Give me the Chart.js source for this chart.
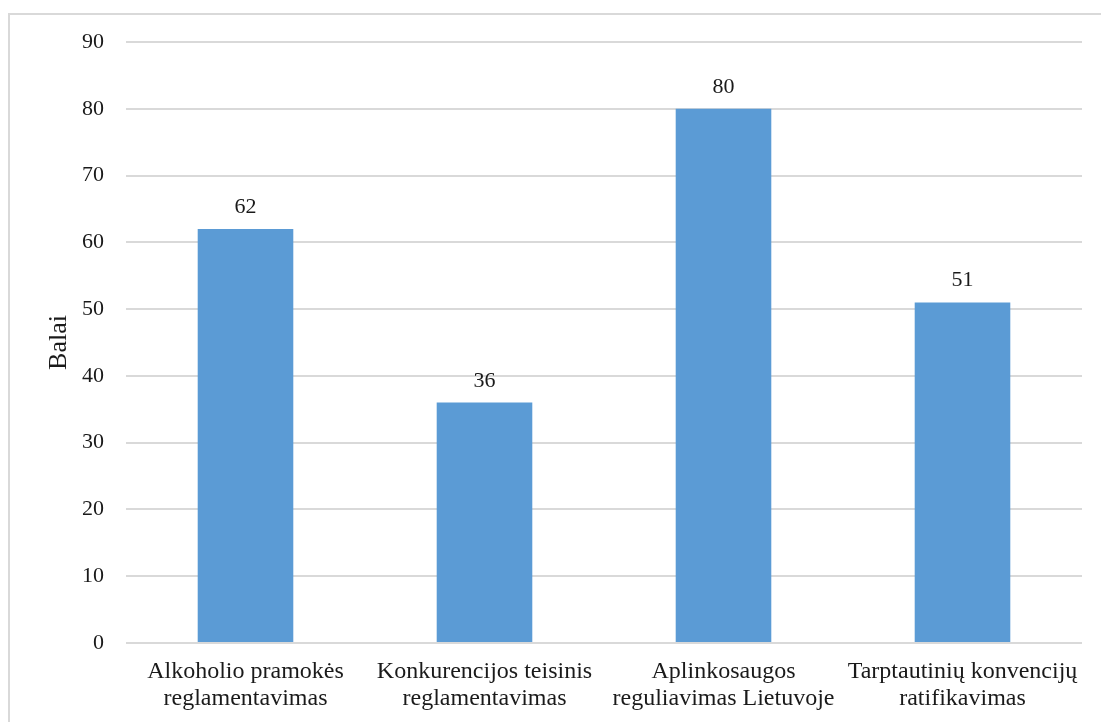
<!DOCTYPE html>
<html>
<head>
<meta charset="utf-8">
<script src="https://cdn.jsdelivr.net/npm/chart.js@4.4.1/dist/chart.umd.min.js"></script>
<style>
  html, body { margin: 0; padding: 0; background: #fff; }
  #wrap { position: relative; width: 1101px; height: 722px; }
</style>
</head>
<body>
<div id="wrap"><canvas id="c" width="1101" height="722"></canvas></div>
<script>
// Categories (two-line labels) and scores
const categories = [
  ['Alkoholio pramokės', 'reglamentavimas'],
  ['Konkurencijos teisinis', 'reglamentavimas'],
  ['Aplinkosaugos', 'reguliavimas Lietuvoje'],
  ['Tarptautinių konvencijų', 'ratifikavimas']
];
const scores = [62, 36, 80, 51];
const yTicks = [0, 10, 20, 30, 40, 50, 60, 70, 80, 90];

const FONT = "'Liberation Serif', 'Times New Roman', serif";
const TEXT = '#1a1a1a';

// Light frame around the whole figure
const framePlugin = {
  id: 'frame',
  beforeDraw(chart) {
    const ctx = chart.ctx;
    ctx.save();
    ctx.strokeStyle = '#d9d9d9';
    ctx.lineWidth = 2;
    ctx.strokeRect(9, 14, 1100, 720);
    ctx.restore();
  }
};

// Value labels above each bar
const valueLabels = {
  id: 'valueLabels',
  afterDatasetsDraw(chart) {
    const ctx = chart.ctx;
    const meta = chart.getDatasetMeta(0);
    const data = chart.data.datasets[0].data;
    ctx.save();
    ctx.font = '22px ' + FONT;
    ctx.fillStyle = TEXT;
    ctx.textAlign = 'center';
    ctx.textBaseline = 'alphabetic';
    meta.data.forEach((bar, i) => {
      ctx.fillText(String(data[i]), bar.x, bar.y - 16);
    });
    ctx.restore();
  }
};

new Chart(document.getElementById('c'), {
  type: 'bar',
  data: {
    labels: categories,
    datasets: [{
      data: scores,
      backgroundColor: '#5b9bd5',
      borderWidth: 0,
      barPercentage: 0.4,
      categoryPercentage: 1.0
    }]
  },
  options: {
    responsive: false,
    animation: false,
    devicePixelRatio: 1,
    layout: { padding: { top: 42, right: 19, bottom: 0, left: 0 } },
    plugins: {
      legend: { display: false },
      tooltip: { enabled: false }
    },
    scales: {
      x: {
        grid: { display: false },
        border: { display: false },
        ticks: {
          color: TEXT,
          font: { family: FONT, size: 24, lineHeight: 1.1 },
          padding: 8,
          maxRotation: 0,
          autoSkip: false
        },
        afterFit(scale) { scale.height = 79; }
      },
      y: {
        min: 0,
        max: 90,
        afterBuildTicks(scale) { scale.ticks = yTicks.map(v => ({ value: v })); },
        grid: { color: '#d9d9d9', lineWidth: 2, drawTicks: false },
        border: { display: false },
        ticks: {
          color: TEXT,
          font: { family: FONT, size: 22 },
          padding: 22
        },
        title: {
          display: true,
          text: 'Balai',
          color: TEXT,
          font: { family: FONT, size: 26 },
          padding: { top: 44, bottom: 0 }
        },
        afterFit(scale) { scale.width = 126; }
      }
    }
  },
  plugins: [framePlugin, valueLabels]
});
</script>
</body>
</html>
